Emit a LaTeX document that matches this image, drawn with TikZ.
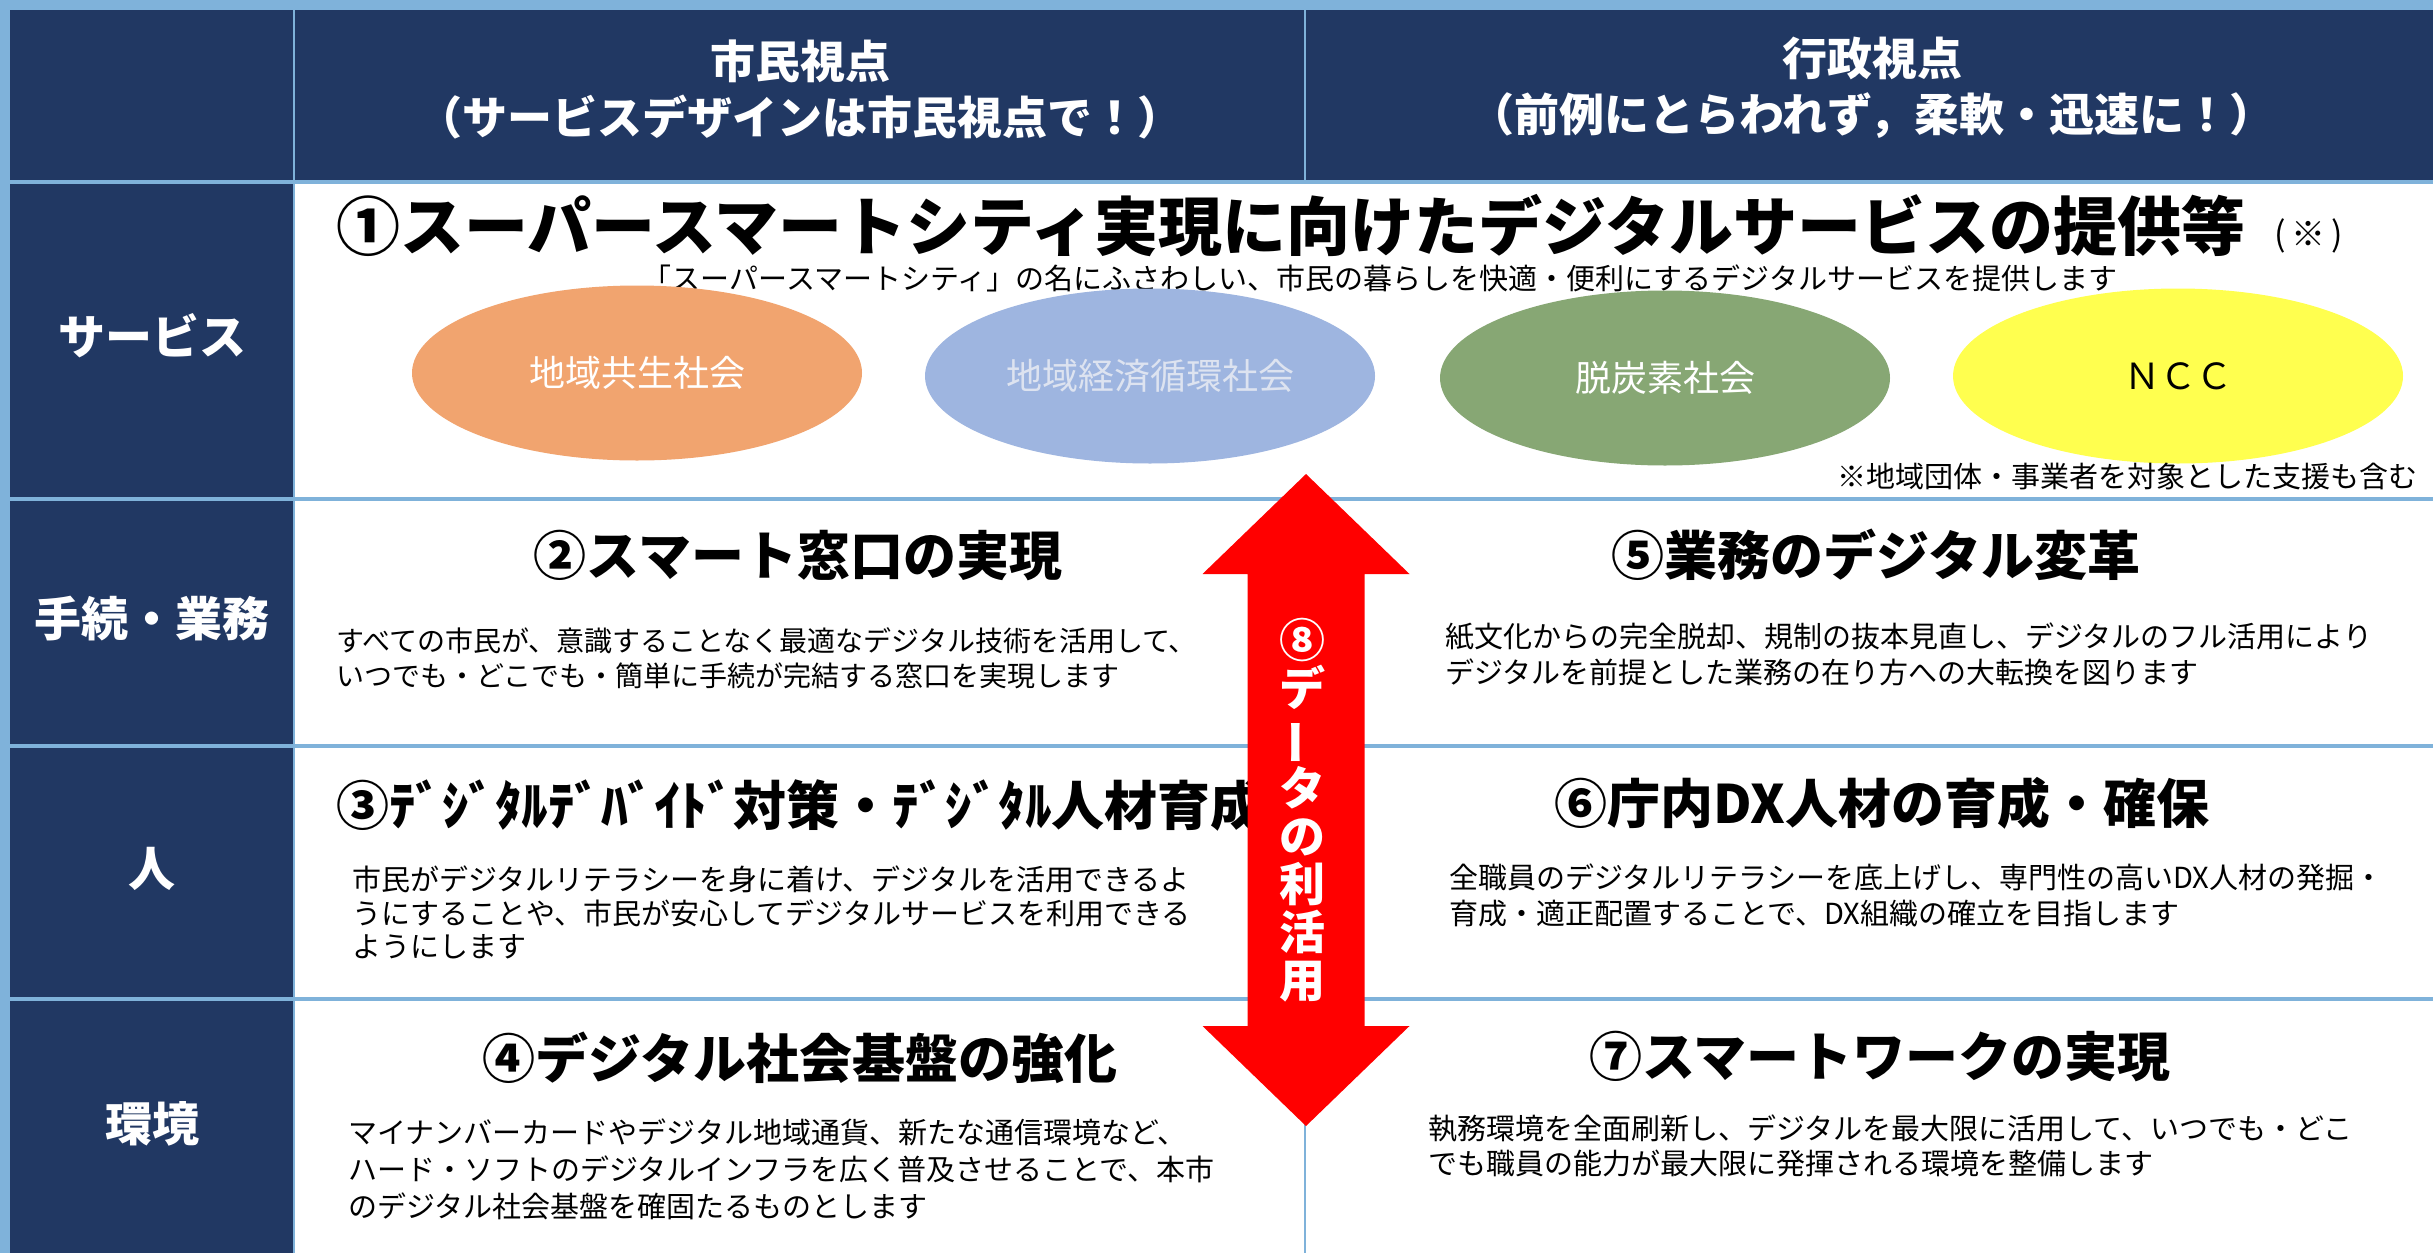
\documentclass[tikz,border=0pt]{standalone}
\usepackage{fontspec}
\setmainfont{Noto Sans CJK JP}
\usetikzlibrary{shapes.geometric}
\definecolor{navy}{HTML}{213863}
\definecolor{lblue}{HTML}{7FB2DA}
\definecolor{eorange}{HTML}{F1A46F}
\definecolor{eblue}{HTML}{9EB5E0}
\definecolor{egreen}{HTML}{87A774}
\definecolor{eyellow}{HTML}{FFFF4F}
\definecolor{etext}{HTML}{DDE3F0}
\tikzset{
  hdr/.style={text=white, font=\bfseries\fontsize{45}{56}\selectfont, align=center, inner sep=0},
  rowlabel/.style={text=white, font=\bfseries\fontsize{47}{56}\selectfont, inner sep=0},
  ttl/.style={font=\bfseries\fontsize{53}{60}\selectfont, inner sep=0},
  body/.style={font=\fontsize{29}{35}\selectfont, align=left, inner sep=0, anchor=north west},
  note/.style={font=\fontsize{29}{32}\selectfont, inner sep=0},
  ell/.style={ellipse, minimum width=450, minimum height=175, inner sep=0, font=\fontsize{36}{40}\selectfont},
  sepline/.style={draw=lblue, line width=3.5},
  vline/.style={draw=lblue, line width=2.5},
}
\begin{document}
\begin{tikzpicture}[x=1pt,y=-1pt]
\useasboundingbox (0,0) rectangle (2433,1253);
% backgrounds
\fill[white] (0,0) rectangle (2433,1253);
\fill[lblue] (0,0) rectangle (2433,10);
\fill[lblue] (0,0) rectangle (10,1253);
\fill[navy] (10,10) rectangle (2433,181);
\fill[navy] (10,181) rectangle (294,1253);
% grid lines
\draw[sepline] (10,182) -- (2433,182);
\draw[sepline] (10,499) -- (2433,499);
\draw[sepline] (10,746) -- (2433,746);
\draw[sepline] (10,999) -- (2433,999);
\draw[vline] (294,10) -- (294,1253);
\draw[vline] (1305,10) -- (1305,181);
\draw[vline] (1305,499) -- (1305,1253);
% header
\node[hdr] (h1) at (800,89) {市民視点\\（サービスデザインは市民視点で！）};
\node[hdr] (h2) at (1872,88) {行政視点\\（前例にとらわれず，柔軟・迅速に！）};
% row labels
\node[rowlabel] (l1) at (152,336) {サービス};
\node[rowlabel] (l2) at (152,619) {手続・業務};
\node[rowlabel] (l3) at (152,869) {人};
\node[rowlabel] (l4) at (152,1124) {環境};
% row 1
\node[font=\bfseries\fontsize{64}{70}\selectfont, anchor=west, inner sep=0] (t1) at (336,226) {①スーパースマートシティ実現に向けたデジタルサービスの提供等};
\node[font=\fontsize{34}{38}\selectfont, anchor=west, inner sep=0] (t1n) at (2274,236) {(\,※\,)};
\node[note] (sub) at (1380,278) {「スーパースマートシティ」の名にふさわしい、市民の暮らしを快適・便利にするデジタルサービスを提供します};
\node[ell, fill=eorange, text=white] (e1) at (637,373) {地域共生社会};
\node[ell, fill=eblue, text=etext] (e2) at (1150,376) {地域経済循環社会};
\node[ell, fill=egreen, text=white] (e3) at (1665,378) {脱炭素社会};
\node[ell, fill=eyellow, text=black] (e4) at (2178,376) {ＮＣＣ};
\node[note, anchor=east] (n1) at (2418,476) {※地域団体・事業者を対象とした支援も含む};
% row 2
\node[ttl] (t2) at (798,556) {②スマート窓口の実現};
\node[body, font=\fontsize{28}{35}\selectfont] (b2) at (336,627) {すべての市民が、意識することなく最適なデジタル技術を活用して、\\いつでも・どこでも・簡単に手続が完結する窓口を実現します};
\node[ttl] (t5) at (1876,555) {⑤業務のデジタル変革};
\node[body, font=\fontsize{29}{36}\selectfont] (b5) at (1445,623) {紙文化からの完全脱却、規制の抜本見直し、デジタルのフル活用により\\デジタルを前提とした業務の在り方への大転換を図ります};
% row 3
\node[ttl, anchor=west] (t3) at (336,805) {③ﾃﾞｼﾞﾀﾙﾃﾞﾊﾞｲﾄﾞ対策・ﾃﾞｼﾞﾀﾙ人材育成};
\node[body, font=\fontsize{29}{33.5}\selectfont] (b3) at (352,866) {市民がデジタルリテラシーを身に着け、デジタルを活用できるよ\\うにすることや、市民が安心してデジタルサービスを利用できる\\ようにします};
\node[ttl] (t6) at (1882,803) {⑥庁内DX人材の育成・確保};
\node[body, font=\fontsize{29}{36}\selectfont] (b6) at (1449,864) {全職員のデジタルリテラシーを底上げし、専門性の高いDX人材の発掘・\\育成・適正配置することで、DX組織の確立を目指します};
% row 4
\node[ttl] (t4) at (800,1058) {④デジタル社会基盤の強化};
\node[body, font=\fontsize{29}{37}\selectfont] (b4) at (348,1119) {マイナンバーカードやデジタル地域通貨、新たな通信環境など、\\ハード・ソフトのデジタルインフラを広く普及させることで、本市\\のデジタル社会基盤を確固たるものとします};
\node[ttl] (t7) at (1880,1057) {⑦スマートワークの実現};
\node[body, font=\fontsize{29}{35}\selectfont] (b7) at (1428,1115) {執務環境を全面刷新し、デジタルを最大限に活用して、いつでも・どこ\\でも職員の能力が最大限に発揮される環境を整備します};
% data arrow
\fill[red] (1306,474) -- (1409.5,574) -- (1364.5,574) -- (1364.5,1026) -- (1409.5,1026) -- (1306,1126) -- (1202.5,1026) -- (1247.5,1026) -- (1247.5,574) -- (1202.5,574) -- cycle;
\node[text=white, font=\bfseries\fontsize{46}{48}\selectfont, align=center, inner sep=0] (arr) at (1302,810) {⑧\\デ\\\rotatebox[origin=c]{90}{ー}\\タ\\の\\利\\活\\用};
\end{tikzpicture}
\end{document}
